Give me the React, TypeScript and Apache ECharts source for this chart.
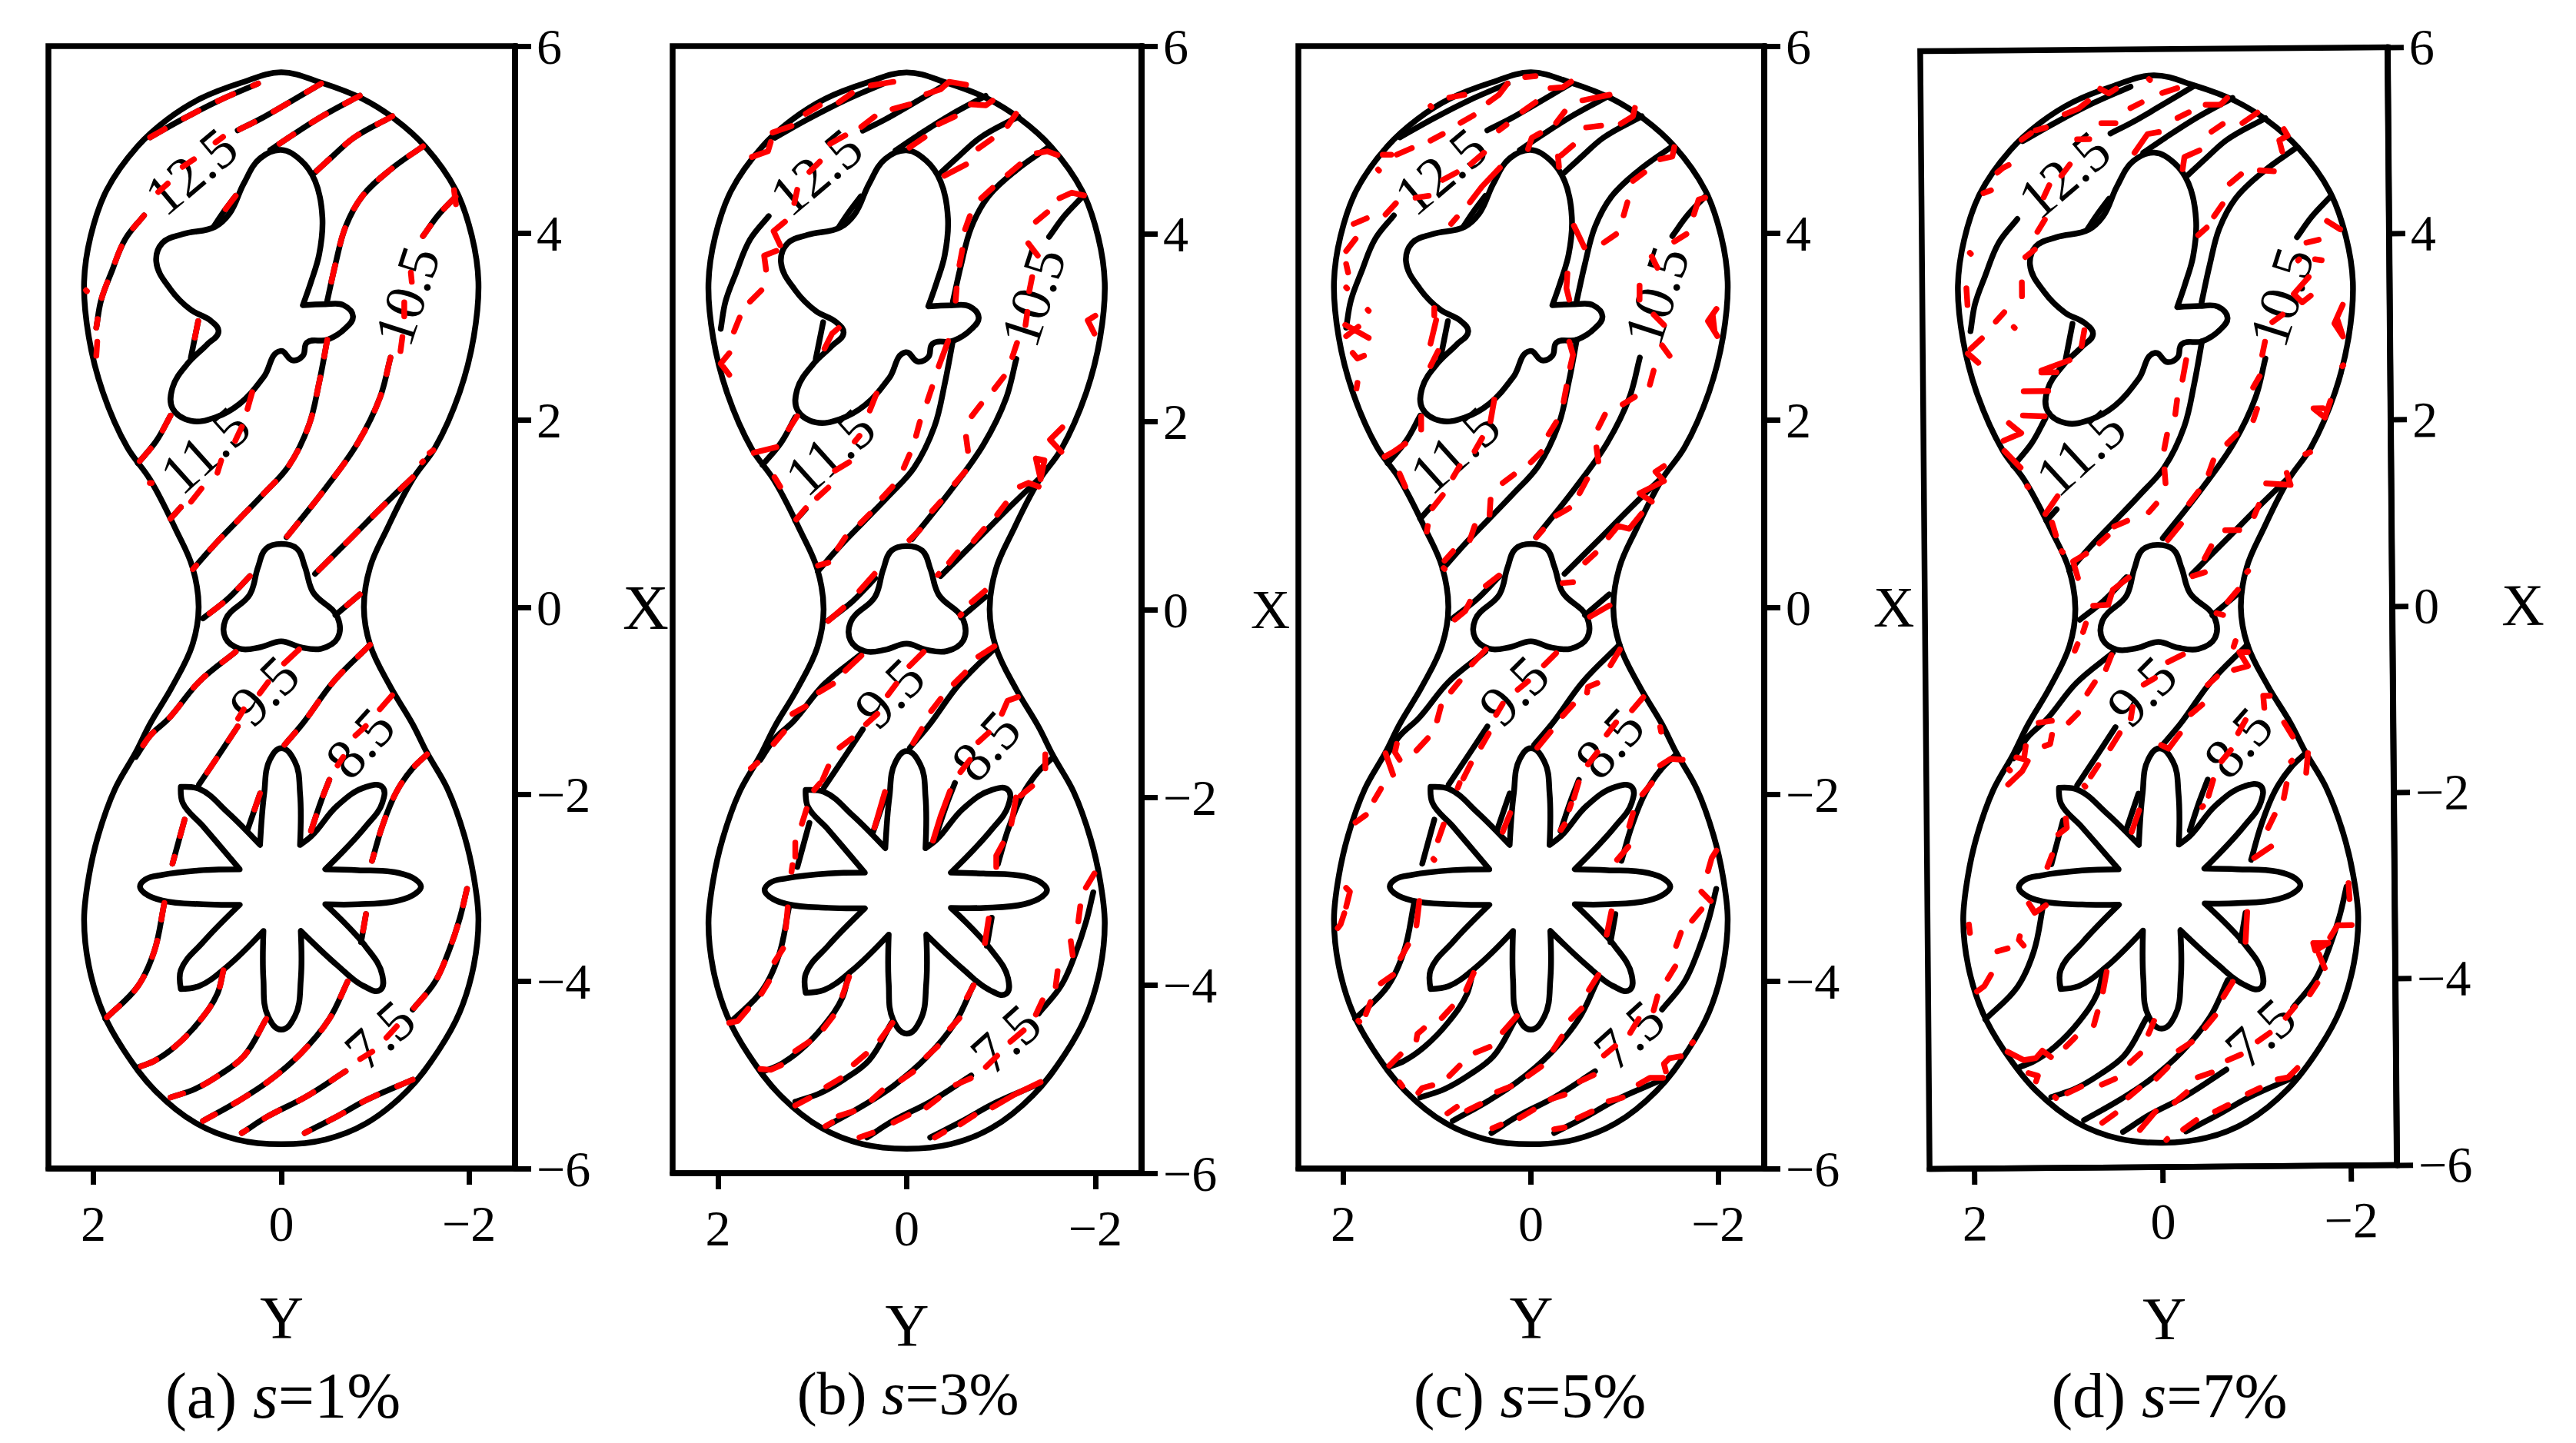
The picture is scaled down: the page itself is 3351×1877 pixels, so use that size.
import React, { useEffect, useRef } from "react";
import * as echarts from "echarts";

const xTicks = [2, 0, -2];
const yTicks = [-6, -4, -2, 0, 2, 4, 6];
const contourLabels: [string, number, number, number][] = [
  ["12.5", 0.96, 4.66, 40], ["11.5", 0.81, 1.68, 42], ["10.5", -1.34, 3.33, 72],
  ["9.5", 0.18, -0.89, 45], ["8.5", -0.84, -1.45, 48], ["7.5", -1.05, -4.57, 42],
];
const captions = ["(a) {i|s}=1%", "(b) {i|s}=3%", "(c) {i|s}=5%", "(d) {i|s}=7%"];

// domain boundary and holes, as [Y, X, Y, X, ...]
const outline = [0,5.72, -.425,5.61, -.86,5.44, -1.21,5.22, -1.53,4.93, -1.86,4.46, -2.03,3.97, -2.10,3.48, -2.05,2.89, -1.90,2.30, -1.64,1.71, -1.40,1.37, -1.12,.825, -.946,.43, -.88,0, -.946,-.40, -1.16,-.845, -1.40,-1.25, -1.55,-1.55, -1.77,-1.94, -1.95,-2.44, -2.05,-2.88, -2.10,-3.33, -2.05,-3.83, -1.90,-4.33, -1.68,-4.73, -1.34,-5.17, -.90,-5.52, -.47,-5.69, 0,-5.74, .47,-5.69, .90,-5.52, 1.34,-5.17, 1.68,-4.73, 1.90,-4.33, 2.05,-3.83, 2.10,-3.33, 2.05,-2.88, 1.95,-2.44, 1.77,-1.94, 1.55,-1.55, 1.40,-1.25, 1.16,-.845, .946,-.40, .88,0, .946,.43, 1.12,.825, 1.40,1.37, 1.64,1.71, 1.90,2.30, 2.05,2.89, 2.10,3.48, 2.03,3.97, 1.86,4.46, 1.53,4.93, 1.21,5.22, .86,5.44, .425,5.61, 0,5.72];
const butterfly = [0,4.89, -.208,4.78, -.36,4.56, -.438,4.165, -.403,3.77, -.317,3.48, -.23,3.23, -.469,3.24, -.664,3.23, -.764,3.11, -.686,2.986, -.49,2.86, -.273,2.83, -.23,2.69, -.122,2.64, .009,2.74, .182,2.47, .443,2.176, .703,2.03, .963,1.994, 1.158,2.127, 1.158,2.35, .985,2.62, .79,2.81, .668,2.95, .746,3.06, .963,3.18, 1.18,3.40, 1.332,3.70, 1.267,3.895, 1.05,3.99, .703,4.07, .551,4.21, .4,4.53, .226,4.80, 0,4.89];
const trefoil = [0,.678, -.165,.629, -.252,.432, -.338,.162, -.6,-.108, -.6,-.329, -.425,-.442, -.208,-.427, 0,-.363, .226,-.427, .443,-.442, .594,-.329, .594,-.133, .334,.138, .247,.432, .16,.629, 0,.678];
const flower = [0,-1.507, -.143,-1.646, -.2,-1.99, -.2,-2.54, -.317,-2.45, -.6,-2.118, -.902,-1.92, -1.076,-1.92, -1.076,-2.09, -.902,-2.34, -.469,-2.80, -.816,-2.81, -1.25,-2.84, -1.43,-2.91, -1.488,-2.986, -1.43,-3.06, -1.25,-3.135, -.816,-3.175, -.469,-3.175, -.902,-3.63, -1.076,-3.93, -1.054,-4.09, -.88,-4.05, -.6,-3.83, -.208,-3.46, -.208,-3.98, -.143,-4.376, 0,-4.515, .139,-4.376, .19,-3.98, .19,-3.46, .594,-3.855, .876,-4.05, 1.07,-4.08, 1.07,-3.88, .833,-3.58, .443,-3.18, .833,-3.175, 1.267,-3.135, 1.45,-3.06, 1.505,-2.986, 1.45,-2.91, 1.267,-2.86, .833,-2.81, .443,-2.80, .833,-2.34, 1.05,-2.09, 1.07,-1.92, .876,-1.94, .573,-2.19, .226,-2.54, .182,-1.99, .117,-1.62, 0,-1.507];

// black contour pieces
const c1 = [1.397,5.025, 1.05,5.22, .66,5.42, .247,5.60];
const c2a = [-.425,5.60, -.035,5.37, .226,5.22, .464,5.10];
const c2b = [1.462,4.19, 1.66,3.94, 1.81,3.58, 1.92,3.28, 1.97,2.99];
const c3a = [-.837,5.47, -.469,5.27, -.12,5.05, .117,4.89];
const c3b = [.486,4.40, .62,4.22, .72,4.07];
const c3c = [.885,3.06, .963,2.67];
const c3d = [1.18,2.05, 1.33,1.78, 1.527,1.54];
const c4a = [-1.184,5.25, -.772,5.02, -.555,4.83, -.36,4.65];
const c4b = [1.18,.948, 1.07,1.07];
const c5a = [-1.51,4.93, -1.163,4.68, -.859,4.39, -.685,4.07, -.577,3.67, -.49,3.28];
const c5b = [-.49,2.86, -.403,2.40, -.295,1.95, -.078,1.51, .182,1.22, .443,.948, .703,.678, .941,.408];
const c6a = [-1.857,4.39, -1.67,4.19, -1.51,3.97];
const c6b = [-1.163,2.67, -1.054,2.25, -.816,1.76, -.469,1.27, -.056,.75];
const c7a = [-1.40,1.39, -1.12,1.12, -.729,.727, -.36,.358];
const c7b = [.334,.334, .573,.088, .833,-.118];
const c8a = [-.837,.138, -.577,-.083];
const c8b = [.464,-1.274, .659,-1.57, .876,-1.894];
const c8c = [1.03,-2.27, 1.158,-2.74];
const c8d = [1.245,-3.16, 1.354,-3.68, 1.527,-4.05, 1.874,-4.40];
const c9 = [.486,-.476, .876,-.796, 1.20,-1.19, 1.397,-1.373, 1.55,-1.60];
const c10a = [-.946,-.40, -.555,-.796, -.23,-1.24, -.035,-1.47];
const c10b = [.226,-1.99, .356,-2.37];
const c11 = [-.512,-1.845, -.425,-2.07, -.317,-2.39];
const c12a = [-1.553,-1.572, -1.40,-1.72, -1.228,-1.97, -1.076,-2.34, -.967,-2.71];
const c12b = [-.902,-3.28, -.85,-3.58];
const c12c = [-.707,-4.0, -.512,-4.40, -.208,-4.77, .139,-5.07, .443,-5.27, .833,-5.49];
const c13a = [-1.978,-3.01, -1.90,-3.33, -1.79,-3.66, -1.64,-4.0, -1.40,-4.30];
const c13b = [-.685,-4.96, -.25,-5.24, .139,-5.44, .42,-5.62];
const c14 = [-1.40,-5.05, -.902,-5.27, -.6,-5.44, -.25,-5.62];
const c15 = [.616,-3.88, .68,-4.13, .876,-4.43, 1.137,-4.70, 1.354,-4.85, 1.527,-4.92];
const c16 = [.16,-4.40, .40,-4.80, .66,-5.0, .92,-5.15, 1.18,-5.24];
const blackContours = [c1,c2a,c2b,c3a,c3b,c3c,c3d,c4a,c4b,c5a,c5b,c6a,c6b,c7a,c7b,c8a,c8b,c8c,c8d,c9,c10a,c10b,c11,c12a,c12b,c12c,c13a,c13b,c14,c15,c16];

// red dashes read for s=1%: the contours above plus these pieces
const redA = [[.70,4.97,.62,5.03],[1.05,4.71,.93,4.79],[1.31,4.44,1.21,4.53],[2.08,3.39,2.07,3.38],[1.96,2.84,1.97,2.69],[1.40,1.33,1.38,1.33],[-1.51,1.56,-1.50,1.55],[-1.62,1.68,-1.58,1.65],[-1.84,4.46,-1.86,4.31],[-1.38,3.58,-1.39,3.48],[-1.31,3.26,-1.31,3.11],[-1.29,2.89,-1.27,2.74],[.31,2.30,.36,2.12],[.42,1.93,.49,1.78],[.64,1.57,.68,1.44],[.85,1.27,.96,1.13],[-.19,-.45,-.03,-.60],[.14,-.80,.23,-.92],[.40,-1.09,.46,-1.19],[-1.18,-.94,-1.05,-1.09],[-.90,-1.27,-.79,-1.37],[-.66,-1.60,-.60,-1.69],[-1.23,-4.48,-1.12,-4.60],[-.97,-4.75,-.84,-4.83]];

const redB = [[1.42,5.08,1.22,5.15],[1.07,5.28,.92,5.37],[.72,5.40,.58,5.50],[.38,5.58,.14,5.62],[.48,5.14,.34,5.25],[.15,5.33,-.03,5.38],[-.21,5.49,-.36,5.54,-.45,5.62,-.63,5.59],[-.68,5.38,-.84,5.37,-.91,5.42],[-.34,5.17,-.51,5.25],[-.03,4.92,-.19,5.03],[-1.07,5.15,-1.16,5.28],[-.76,4.91,-.90,5.01],[-.40,4.62,-.63,4.74],[1.64,4.82,1.47,4.88,1.44,4.98],[.81,4.96,.65,5.05],[1.03,4.66,.92,4.77],[1.16,4.47,1.19,4.33],[1.29,4.13,1.41,4.03,1.34,3.88],[1.38,3.82,1.51,3.77,1.49,3.62],[1.54,3.40,1.66,3.28],[1.77,3.11,1.83,2.96],[1.88,2.73,1.97,2.62,1.88,2.50],[-1.37,4.13,-1.49,4.23],[-1.62,4.38,-1.75,4.44,-1.88,4.41],[-1.38,4.86,-1.49,4.88,-1.60,4.84],[-1.07,4.63,-1.20,4.74],[-.79,4.38,-.91,4.49],[-.67,4.19,-.62,4.05],[-.59,3.83,-.56,3.67],[-.53,3.42,-.52,3.29],[-1.29,3.90,-1.39,3.77],[-1.33,3.54,-1.30,3.39],[-1.28,3.17,-1.26,3.03],[-1.17,2.84,-1.12,2.69],[-1.03,2.48,-.93,2.35],[-.79,2.19,-.69,2.06],[-.63,1.84,-.65,1.69],[-.44,2.86,-.34,2.59],[-.27,2.37,-.22,2.22],[-.14,2.00,-.10,1.85],[-.03,1.65,.03,1.51],[.15,1.31,.26,1.19],[.39,1.02,.49,.92],[.65,.77,.73,.65],[.83,.50,.94,.47],[.72,3.00,.79,2.94,.87,2.78],[.32,2.30,.39,2.12],[.50,1.85,.55,1.79],[.61,1.57,.76,1.48],[.83,1.30,.95,1.19],[1.07,1.08,1.17,.96],[1.34,1.31,1.40,1.41],[1.62,1.67,1.38,1.73],[1.25,1.92,1.16,2.06],[-1.65,1.94,-1.52,1.81,-1.64,1.68],[-1.42,1.39,-1.37,1.61,-1.46,1.59,-1.42,1.39],[-1.20,1.31,-1.29,1.35,-1.40,1.31],[-1.05,1.13,-.96,1.01],[-.82,.86,-.71,.73],[-.54,.61,-.45,.50],[-.34,.38,-.33,.37],[-2.0,3.13,-1.92,3.08,-1.99,2.94],[-.62,1.47,-.51,1.34],[-.36,1.15,-.27,1.05],[-.14,.85,-.03,.74],[.34,.38,.50,.20],[.67,.02,.83,-.12],[-.83,.20,-.69,.08],[-.58,-.05,-.57,-.06],
[.48,-.49,.65,-.65],[.78,-.79,.93,-.88],[1.07,-1.03,1.21,-1.11],[1.30,-1.30,1.41,-1.43],[1.58,-1.63,1.65,-1.69],[-.18,-.45,-.03,-.60],[.11,-.79,.20,-.91],[.31,-1.11,.43,-1.22],[.58,-1.37,.71,-1.47],[.83,-1.67,.89,-1.81],[.92,-1.85,.98,-1.92],[1.06,-2.12,1.11,-2.28],[1.18,-2.48,1.18,-2.63],[1.21,-2.72,1.22,-2.79],[1.26,-3.17,1.28,-3.39],[1.31,-3.61,1.40,-3.75],[1.46,-3.96,1.54,-4.09],[1.68,-4.25,1.79,-4.38,1.88,-4.40],[-.93,-.39,-.76,-.50],[-.62,-.67,-.50,-.79],[-.36,-.95,-.26,-1.08],[-.16,-1.27,-.07,-1.42],[-1.18,-.93,-1.07,-.97,-1.01,-1.11],[-.87,-1.31,-.76,-1.41],[-.67,-1.60,-.57,-1.73],[-.46,-1.93,-.36,-2.20,-.28,-2.46],[.23,-1.94,.34,-2.32],[-1.47,-1.54,-1.47,-1.69],[-1.33,-1.88,-1.21,-1.98],[-1.16,-2.0,-1.11,-2.28],[-1.02,-2.49,-.95,-2.62,-.95,-2.74],[-.87,-3.29,-.83,-3.55],[-1.99,-2.81,-1.90,-2.96],[-1.84,-3.16,-1.82,-3.32],[-1.74,-3.53,-1.76,-3.68],[-1.60,-3.85,-1.58,-4.01],[-1.44,-4.16,-1.37,-4.31],[-1.24,-4.48,-1.10,-4.60],[-.96,-4.75,-.84,-4.87],[-.68,-4.99,-.52,-5.06],[-.34,-5.20,-.21,-5.30],[-.02,-5.38,.14,-5.46],[.36,-5.57,.50,-5.62],[-1.42,-5.03,-1.15,-5.16,-.91,-5.30],[-.72,-5.38,-.57,-5.48],[-.40,-5.56,-.30,-5.62],[-.71,-4.0,-.64,-4.13],[-.56,-4.35,-.46,-4.46],[-.33,-4.65,-.21,-4.76],[-.07,-4.92,.06,-5.01],[.26,-5.12,.37,-5.22],[.56,-5.34,.72,-5.39],[.79,-5.46,.86,-5.50],[.15,-4.40,.28,-4.58],[.43,-4.73,.56,-4.84],[.70,-4.99,.85,-5.08],[1.03,-5.20,1.18,-5.28],[.61,-3.91,.68,-4.11],[.78,-4.33,.88,-4.46],[1.03,-4.60,1.18,-4.70],[1.33,-4.85,1.44,-4.90,1.55,-4.89]];

const redC = [[.87,5.45,.71,5.48],[1.07,5.36,1.06,5.35],[.45,5.40,.34,5.48,.25,5.60],[.06,5.67,-.05,5.68],[-.21,5.55,-.34,5.56,-.43,5.62],[-.55,5.42,-.84,5.48],[.09,5.30,-.05,5.40],[-.27,5.18,-.36,5.30],[-.96,5.17,-1.09,5.25,-1.11,5.34],[-.59,5.13,-.75,5.15],[.03,4.90,-.01,5.02,-.10,5.07],[-.32,4.83,-.45,4.94],[-.30,4.71,-.29,4.82],[.34,5.10,.26,5.16],[.75,5.18,.61,5.26],[1.07,4.99,.94,5.06],[1.43,4.84,1.27,4.91],[1.58,4.84,1.49,4.84],[1.63,4.68,1.62,4.67],[.64,4.74,.50,4.86],[.94,4.57,.79,4.65],[1.23,4.38,1.09,4.40],[.33,4.70,.52,4.50,.65,4.33],[.79,4.17,.85,4.10],[1.44,4.32,1.55,4.20],[1.75,4.16,1.89,4.10],[1.87,3.94,1.97,3.81],[1.97,3.67,1.95,3.58],[1.97,3.42,1.96,3.41],[1.74,3.18,1.73,3.17],[1.98,3.02,1.73,2.88],[1.84,3.00,1.97,2.90],[1.90,2.72,1.85,2.66,1.78,2.69],[1.85,2.40,1.86,2.34],[-1.53,4.92,-1.51,4.82,-1.38,4.79],[-1.21,4.65,-1.09,4.56],[-1.03,4.33,-.99,4.19],[-.91,3.99,-.78,3.90],[-.46,4.08,-.57,3.85],[-.39,3.57,-.38,3.41,-.41,3.29],[-1.86,4.38,-1.79,4.36,-1.74,4.20],[-1.66,3.99,-1.53,3.91],[-1.29,3.75,-1.35,3.63],[-1.16,3.44,-1.16,3.29],[-1.31,3.13,-1.42,3.02],[-1.40,2.80,-1.48,2.69],[-1.31,2.53,-1.27,2.38],[-1.11,2.25,-.98,2.17],[-.79,2.06,-.72,1.92],[-.70,1.71,-.72,1.56],[-.60,1.37,-.52,1.22],[-.41,1.06,-.27,.98],[-.13,.83,-.06,.75],[-1.98,3.19,-1.89,3.06,-1.99,2.90],[-1.94,3.13,-1.96,2.95],[-.41,2.84,-.45,2.70,-.42,2.57],[-.38,2.36,-.35,2.20],[-.27,1.98,-.19,1.85],[-.11,1.66,0,1.55],[.18,1.42,.30,1.33],[.43,1.15,.44,.99],[.60,.87,.65,.72],[.83,.60,.92,.50],[.93,.42,.92,.41],[.39,2.22,.43,1.99],[.52,1.81,.60,1.67],[.76,1.51,.83,1.39],[.94,1.20,1.05,1.06],[1.10,.87,1.11,.81],[1.40,1.43,1.34,1.29],[1.34,1.75,1.47,1.66,1.56,1.61],[1.17,2.04,1.17,1.90],[1.03,3.20,1.03,3.12],[1.01,3.07,1.07,2.82],[.99,2.74,1.07,2.58],[-1.42,1.51,-1.33,1.45,-1.42,1.35],[-1.42,1.35,-1.16,1.22,-1.29,1.13],[-1.18,1.00,-1.05,.84,-.93,.87,-.83,.75],[-.69,.58,-.58,.48],[-.45,.27,-.34,.26],[.34,.34,.48,.23],[.65,.06,.70,-.04,.81,-.13],[-.84,.02,-.63,-.10],
[.48,-.45,.63,-.61],[.76,-.79,.85,-.90],[.96,-1.06,1.0,-1.21],[1.10,-1.40,1.22,-1.53],[1.43,-1.46,1.45,-1.55,1.40,-1.63],[1.55,-1.56,1.47,-1.79],[1.60,-1.94,1.67,-2.06],[1.76,-2.22,1.87,-2.30],[-.27,-.49,-.14,-.62],[.03,-.79,.14,-.88],[.30,-1.03,.37,-1.15],[.45,-1.35,.53,-1.49],[.64,-1.67,.72,-1.83],[.76,-1.88,.78,-1.93],[.93,-2.32,.99,-2.49],[1.04,-2.69,1.03,-2.70],[-.95,-.45,-.85,-.62],[-.71,-.81,-.61,-.85,-.60,-.91],[-.45,-1.04,-.34,-1.16],[-.21,-1.33,-.07,-1.50],[-1.20,-.96,-1.08,-1.10],[-.91,-1.23,-.81,-1.36],[-.71,-1.55,-.61,-1.68],[-.51,-1.87,-.46,-2.04],[-.43,-2.10,-.41,-2.16],[-.36,-2.32,-.32,-2.38],[-1.38,-1.28,-1.39,-1.33],[-1.62,-1.63,-1.49,-1.62,-1.38,-1.69],[-1.29,-1.88,-1.19,-2.0],[-1.09,-2.20,-1.05,-2.34],[-1.04,-2.56,-.92,-2.70],[-.86,-3.25,-.81,-3.50],[.22,-2.20,.30,-2.40],[-1.98,-2.60,-1.93,-2.68,-1.89,-2.82],[-1.82,-3.04,-1.92,-3.14],[-1.82,-3.23,-1.72,-3.35],[-1.60,-3.48,-1.55,-3.62],[-1.54,-3.84,-1.46,-3.97],[-1.35,-4.16,-1.31,-4.31],[-1.15,-4.40,-1.06,-4.55],[-.90,-4.69,-.78,-4.79],[-.67,-5.00,-.52,-5.07],[-.36,-5.21,-.21,-5.26],[-.03,-5.37,.12,-5.46],[.32,-5.53,.41,-5.57],[-1.73,-4.65,-1.72,-4.66],[-1.60,-4.80,-1.48,-4.82,-1.42,-4.88,-1.44,-4.96],[-1.41,-5.03,-1.27,-5.03,-1.15,-5.10],[-.98,-5.24,-.83,-5.28],[-.65,-5.39,-.50,-5.46],[-.36,-5.56,-.25,-5.58],[-.72,-3.93,-.62,-4.09],[-.54,-4.29,-.43,-4.40],[-.33,-4.59,-.24,-4.73],[-.11,-4.91,.03,-5.01],[.21,-5.12,.36,-5.18],[.54,-5.31,.68,-5.38],[.79,-5.34,.89,-5.41],[.15,-4.37,.30,-4.54],[.44,-4.70,.59,-4.76],[.76,-4.90,.87,-5.01],[1.05,-5.11,1.16,-5.14,1.20,-5.19],[.61,-3.91,.69,-4.09],[.84,-4.27,.95,-4.39],[1.14,-4.50,1.21,-4.56,1.22,-4.62],[1.39,-4.78,1.51,-4.90],[1.40,-5.08,1.37,-5.12],[1.19,-3.14,1.22,-3.40],[1.31,-3.61,1.39,-3.75],[1.47,-3.93,1.60,-4.02],[1.71,-4.22,1.76,-4.35],[1.84,-4.42,1.83,-4.43],[1.97,-3.0,1.93,-3.04,1.97,-3.20],[1.99,-3.27,2.03,-3.39,2.06,-3.43]];

const redD = [[.05,5.68,.04,5.67],[-.09,5.53,-.25,5.58],[.57,5.58,.48,5.53,.40,5.58],[.95,5.31,.80,5.37,.70,5.45],[.25,5.37,.13,5.43],[.56,5.21,.41,5.21],[1.41,5.04,1.31,5.11],[1.26,5.14,1.15,5.17],[.82,5.04,.69,5.04],[-.55,5.40,-.71,5.40,-.78,5.47],[-.25,5.26,-.37,5.32],[.21,4.89,.07,5.09,-.05,5.11],[-.94,5.20,-1.10,5.31],[-.61,5.11,-.73,5.19],[-.30,4.71,-.32,4.84,-.48,4.91],[-1.38,5.13,-1.42,5.06,-1.33,5.01,-1.36,4.89],[-1.12,4.69,-1.27,4.68],[-.80,4.55,-.92,4.65],[-.63,4.20,-.72,4.33],[-.46,4.0,-.55,4.08],[-1.83,4.14,-1.97,4.05],[-1.61,3.91,-1.74,3.94],[-1.70,3.73,-1.77,3.72],[-1.53,3.73,-1.52,3.72],[-1.63,3.54,-1.47,3.36,-1.56,3.27,-1.65,3.34],[-1.24,3.06,-1.35,3.14],[-1.16,2.85,-1.13,2.71],[-1.99,3.24,-1.90,3.04,-1.99,2.90,-1.93,3.09],[-1.99,2.59,-1.98,2.58],[-1.10,2.48,-1.03,2.36],[-1.07,2.13,-1.03,2.01],[-.85,1.86,-.75,1.76],[-.60,1.58,-.55,1.44],[-.44,1.25,-.34,1.12],[-.32,2.66,-.28,2.45],[-.22,2.23,-.20,2.08],[-.11,1.86,-.08,1.71],[-.08,1.49,-.09,1.34],[.01,1.12,.09,1.03],[.32,.94,.46,.88],[.53,.78,.62,.70],[.76,.59,.90,.51,.85,.33],[1.06,1.21,1.19,1.02],[1.12,.93,1.08,.79],[1.02,.62,1.01,.61],[1.38,1.32,1.37,1.31],[1.62,1.70,1.45,1.52],[1.57,2.0,1.44,1.89,1.63,1.81],[1.42,2.08,1.19,2.07],[1.41,2.34,1.15,2.34],[1.22,2.56,.92,2.67],[1.22,2.54,1.06,2.54],[.79,2.82,.76,2.99],[2.0,2.75,1.89,2.65],[1.97,2.80,1.85,2.91],[1.70,3.09,1.61,3.19],[1.51,3.03,1.50,3.02],[1.42,3.36,1.42,3.51],[2.01,3.45,2.0,3.27],[1.97,3.83,1.96,3.82],[1.38,3.78,1.28,3.86],[1.25,4.05,1.17,4.18],[.99,4.65,.90,4.77],[1.18,4.42,1.12,4.55],[1.67,4.69,1.61,4.74,1.55,4.77],[1.82,4.47,1.74,4.50],[-1.77,2.13,-1.67,2.13,-1.79,2.03,-1.85,2.21],[-1.63,1.66,-1.58,1.64],[-1.16,1.33,-1.42,1.31,-1.38,1.44],[-1.08,1.10,-1.03,.98],[-.87,.83,-.72,.83],[-.57,.66,-.50,.53],[-.50,.38,-.37,.34],[-.11,.73,-.25,.90],[-.96,.39,-.95,.38],[-.85,.19,-.74,.06],[-.69,-.08,-.62,-.06],[.31,.33,.48,.20,.53,.04],[.53,.04,.69,.03],[.77,-.16,.80,-.25],[.86,-.38,.89,-.45],
[.50,-.50,.56,-.65],[-.26,-.50,-.10,-.58],[.04,-.75,.16,-.82],[.68,-.79,.76,-.91],[.86,-1.12,.96,-1.22],[1.14,-1.20,1.28,-1.22],[1.14,-1.35,1.16,-1.45,1.22,-1.47],[1.42,-1.47,1.44,-1.61,1.52,-1.59],[1.40,-1.63,1.46,-1.74,1.61,-1.88],[1.60,-1.72,1.59,-1.73],[.28,-1.06,.30,-1.18],[.42,-1.34,.52,-1.50],[.65,-1.68,.73,-1.80],[.80,-1.90,.79,-1.91],[.22,-2.17,.30,-2.40],[1.0,-2.25,.99,-2.35,1.08,-2.42],[1.15,-2.64,1.20,-2.77],[1.36,-3.22,1.40,-3.16,1.34,-3.26,1.22,-3.18],[1.50,-3.51,1.51,-3.55,1.46,-3.61],[1.63,-3.64,1.74,-3.67],[1.81,-3.92,1.88,-4.04,1.96,-4.10],[2.04,-3.38,2.03,-3.47],[.58,-3.90,.62,-4.11],[.68,-4.33,.72,-4.47],[.92,-4.60,1.02,-4.70],[1.18,-4.81,1.27,-4.74,1.34,-4.82,1.47,-4.84,1.64,-4.75],[1.42,-4.98,1.32,-5.01,1.34,-5.07],[1.14,-5.24,1.13,-5.25],[.86,-5.13,1.01,-5.20],[.50,-5.05,.64,-5.11],[.23,-4.78,.34,-4.88],[.08,-4.43,.14,-4.57],[-.02,-1.47,-.10,-1.51,-.22,-1.35],[-.46,-1.04,-.34,-1.14],[-.62,-.74,-.52,-.83],[-.82,-.36,-.80,-.42],[-.95,-.48,-.86,-.48,-.95,-.63,-.80,-.67],[-1.18,-.95,-1.11,-.95,-1.12,-1.08],[-1.33,-1.24,-1.42,-1.39],[-.92,-1.21,-.84,-1.35],[-.76,-1.53,-.66,-1.65],[-1.58,-1.57,-1.56,-1.78],[-1.41,-1.65,-1.40,-1.66],[-1.35,-1.90,-1.32,-2.05],[-1.22,-2.23,-1.15,-2.37],[-1.18,-2.57,-1.0,-2.69],[-.57,-1.85,-.52,-2.02],[-.46,-2.13,-.45,-2.14],[-.92,-3.27,-.90,-3.59],[-2.0,-2.97,-2.01,-3.14],[-2.03,-3.42,-1.88,-3.42,-1.80,-3.55],[-1.62,-3.61,-1.78,-3.61,-1.64,-3.69,-1.62,-3.61],[-1.68,-3.73,-1.74,-3.88],[-1.66,-4.04,-1.58,-4.16],[-1.42,-4.29,-1.32,-4.41],[-1.15,-4.57,-1.02,-4.66],[-.84,-4.80,-.70,-4.86],[-.53,-4.99,-.38,-5.04],[-.26,-5.20,-.13,-5.31],[.07,-5.40,.24,-5.60],[-.76,-4.02,-.66,-4.18],[-.57,-4.38,-.46,-4.51],[-.32,-4.66,-.18,-4.75],[-.06,-4.93,.06,-5.05],[.24,-5.15,.36,-5.25],[.50,-5.42,.64,-5.52],[-1.44,-4.95,-1.34,-5.05,-1.23,-5.07],[-1.04,-5.16,-.91,-5.22],[-.70,-5.34,-.56,-5.41],[-.36,-5.50,-.22,-5.60],[-.05,-5.70,-.04,-5.71]];

const FONT = "Liberation Serif";
const INK = "#000";
const RED = "#ff0000";

function pairs(flat: number[]) {
  const out: number[][] = [];
  for (let i = 0; i < flat.length; i += 2) out.push([flat[i], flat[i + 1]]);
  return out;
}
function dashes(list: number[][]) {
  const out: any[] = [];
  list.forEach((d) => { out.push(...pairs(d), ["-", "-"]); });
  return out;
}
const tickText = (v: number) => (v < 0 ? "\u2212" + Math.abs(v) : String(v));

// Pen path through the given pixel points; sharp turns stay corners.
function smoothPath(p: number[][]) {
  const n = p.length;
  const closed = n > 2 && p[0][0] === p[n - 1][0] && p[0][1] === p[n - 1][1];
  const tangent = (i: number) => {
    const prev = i > 0 ? p[i - 1] : closed ? p[n - 2] : p[i];
    const next = i < n - 1 ? p[i + 1] : closed ? p[1] : p[i];
    const a = [p[i][0] - prev[0], p[i][1] - prev[1]];
    const b = [next[0] - p[i][0], next[1] - p[i][1]];
    const la = Math.hypot(a[0], a[1]) || 1, lb = Math.hypot(b[0], b[1]) || 1;
    const cos = (a[0] * b[0] + a[1] * b[1]) / (la * lb);
    if (cos < -0.15) return [0, 0];
    const ux = a[0] / la + b[0] / lb, uy = a[1] / la + b[1] / lb;
    const l = Math.hypot(ux, uy) || 1;
    return [ux / l, uy / l];
  };
  let d = `M${p[0][0]} ${p[0][1]}`;
  for (let i = 0; i < n - 1; i++) {
    const s = Math.hypot(p[i + 1][0] - p[i][0], p[i + 1][1] - p[i][1]) * 0.36;
    const t0 = tangent(i), t1 = tangent(i + 1);
    d += `C${p[i][0] + t0[0] * s} ${p[i][1] + t0[1] * s} ${p[i + 1][0] - t1[0] * s} ${p[i + 1][1] - t1[1] * s} ${p[i + 1][0]} ${p[i + 1][1]}`;
  }
  return d;
}

function curve(flat: number[], axis: number, style: any) {
  const pts = pairs(flat);
  return {
    type: "custom", xAxisIndex: axis, yAxisIndex: axis, silent: true, clip: false, coordinateSystem: "cartesian2d",
    encode: { x: 0, y: 1 }, data: pts,
    renderItem: (params: any, api: any) => {
      if (params.dataIndex !== 0) return null;
      return { type: "path", shape: { pathData: smoothPath(pts.map((q) => api.coord(q))) }, style: { fill: "none", lineCap: "round", lineJoin: "round", ...style } };
    },
  };
}

type Panel = { left: number; right: number; top: number; bottom: number; xFont: number; yGap: number; xGap: number; red: number[][]; contourRed: boolean };
const panelA: Panel = { left: 63, right: 670, top: 60, bottom: 1520, xFont: 83, yGap: 154, xGap: 140, red: redA, contourRed: true };
const panelB: Panel = { left: 875, right: 1485, top: 60, bottom: 1526, xFont: 71, yGap: 158, xGap: 142, red: redB, contourRed: false };
const panelC: Panel = { left: 1689, right: 2295, top: 60, bottom: 1520, xFont: 74, yGap: 154, xGap: 142, red: redC, contourRed: false };
const panelD: Panel = { left: 2504, right: 3112, top: 64, bottom: 1518, xFont: 77, yGap: 158, xGap: 142, red: redD, contourRed: false };

function buildOption(panels: Panel[], withCaptions: boolean) {
  const grid: any[] = [], xAxis: any[] = [], yAxis: any[] = [], series: any[] = [];
  const black = { stroke: INK, lineWidth: 7.5 };
  panels.forEach((p, i) => {
    grid.push({ left: p.left, top: p.top, width: p.right - p.left, height: p.bottom - p.top, show: true, borderColor: INK, borderWidth: 7.5, backgroundColor: "transparent", containLabel: false });
    xAxis.push({
      type: "value", gridIndex: i, inverse: true, min: -2.49, max: 2.48, name: "Y", nameLocation: "middle", nameGap: p.yGap,
      nameTextStyle: { fontFamily: FONT, fontSize: 79, color: INK },
      axisLine: { show: true, onZero: false, lineStyle: { color: INK, width: 7.5 } },
      axisTick: { show: true, length: 21, customValues: xTicks, lineStyle: { color: INK, width: 7 } },
      axisLabel: { show: true, customValues: xTicks, fontFamily: FONT, fontSize: 66, color: INK, margin: 38, formatter: tickText },
      splitLine: { show: false },
    });
    yAxis.push({
      type: "value", gridIndex: i, position: "right", min: -6, max: 6, name: "X", nameLocation: "middle", nameRotate: 0, nameGap: p.xGap,
      nameTextStyle: { fontFamily: FONT, fontSize: p.xFont, color: INK },
      axisLine: { show: true, onZero: false, lineStyle: { color: INK, width: 8 } },
      axisTick: { show: true, length: 21, customValues: yTicks, lineStyle: { color: INK, width: 7 } },
      axisLabel: { show: true, customValues: yTicks, fontFamily: FONT, fontSize: 66, color: INK, margin: 28, padding: [12, 0, 0, 0], formatter: tickText },
      splitLine: { show: false },
    });
    [outline, butterfly, trefoil, flower, ...blackContours].forEach((d) => series.push(curve(d, i, black)));
    series.push({
      type: "scatter", xAxisIndex: i, yAxisIndex: i, symbolSize: 2, silent: true, itemStyle: { color: "rgba(0,0,0,0)" },
      data: contourLabels.map(([t, y, x, r]) => ({
        value: [y, x],
        label: { show: true, position: "inside", formatter: t, rotate: r, fontFamily: FONT, fontSize: 74, color: INK, opacity: 1 },
      })),
      labelLayout: { hideOverlap: false },
    });
    if (p.contourRed) {
      blackContours.forEach((d) => series.push(curve(d, i, { stroke: RED, lineWidth: 7.5, lineDash: [22, 28] })));
    }
    series.push({
      type: "line", xAxisIndex: i, yAxisIndex: i, showSymbol: false, symbol: "none", silent: true, clip: false,
      data: dashes(p.red), smooth: false, lineStyle: { color: RED, width: 7.5, cap: "round", join: "round" },
    });
  });
  const centers = [363, 1176, 1985, 2817];
  const sizes = [84, 78, 83, 83];
  const title = withCaptions
    ? captions.map((c, i) => ({
        text: c, left: centers[i], top: 1768, textAlign: "center",
        textStyle: { fontFamily: FONT, fontSize: sizes[i], fontWeight: "normal", color: INK, rich: { i: { fontFamily: FONT, fontSize: sizes[i], fontStyle: "italic", color: INK } } },
      }))
    : [];
  return { animation: false, backgroundColor: "transparent", title, grid, xAxis, yAxis, series };
}

const box: React.CSSProperties = { position: "absolute", left: 0, top: 0, width: 3351, height: 1877 };

export default function App() {
  const a = useRef<HTMLDivElement>(null);
  const b = useRef<HTMLDivElement>(null);
  useEffect(() => {
    const c1 = echarts.init(a.current!, null, { renderer: "svg" });
    const c2 = echarts.init(b.current!, null, { renderer: "svg" });
    c1.setOption(buildOption([panelA, panelB, panelC], true));
    c2.setOption(buildOption([panelD], false));
    return () => { c1.dispose(); c2.dispose(); };
  }, []);
  return (
    <div style={{ ...box, background: "#fff", overflow: "hidden" }}>
      <div ref={a} style={box} />
      <div ref={b} style={{ ...box, transform: "rotate(-0.48deg)", transformOrigin: "2808px 791px" }} />
    </div>
  );
}
